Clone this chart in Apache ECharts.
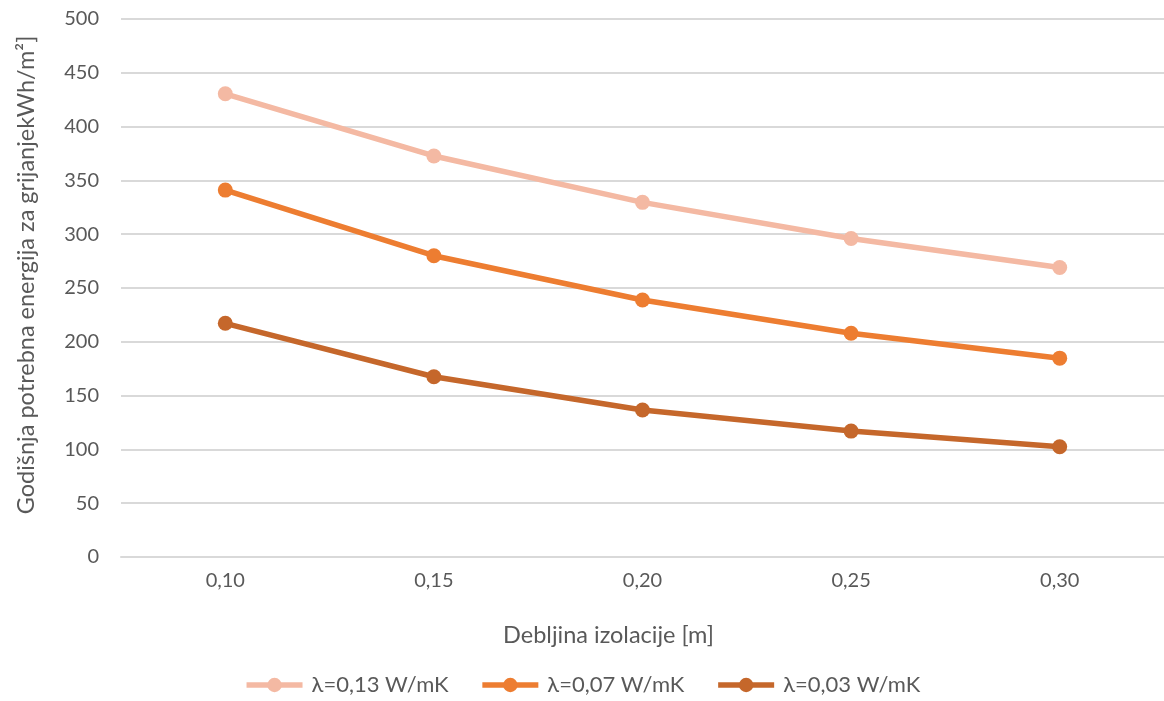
<!DOCTYPE html>
<html>
<head>
<meta charset="utf-8">
<script src="https://cdn.jsdelivr.net/npm/echarts@6/dist/echarts.min.js"></script>
<style>html,body{margin:0;padding:0;background:#fff}#c{width:1164px;height:701px}</style>
</head>
<body>
<div id="c"></div>
<script>
const categories = ['0,10', '0,15', '0,20', '0,25', '0,30'];
const seriesNames = ['λ=0,13 W/mK', 'λ=0,07 W/mK', 'λ=0,03 W/mK'];
const s013 = [430.5, 372.7, 329.6, 296, 269];
const s007 = [341, 280, 238.8, 208, 184.8];
const s003 = [217.2, 167.5, 136.6, 117, 102.5];
const colors = ['#F4B9A3', '#ED7D31', '#C5672B'];
const yTitle = 'Godišnja potrebna energija za grijanjekWh/m²]';
const xTitle = 'Debljina izolacije [m]';

const font = "Lato, 'Open Sans', sans-serif";
const chart = echarts.init(document.getElementById('c'));
const mk = (name, data, color) => ({
  name, type: 'line', data,
  symbol: 'circle', symbolSize: 15,
  lineStyle: { width: 5.5, color },
  itemStyle: { color },
  emphasis: { disabled: true },
  animation: false
});
chart.setOption({
  animation: false,
  textStyle: { fontFamily: font },
  grid: { left: 121, top: 19, width: 1055, height: 538 },
  xAxis: {
    type: 'category', data: categories, boundaryGap: true,
    axisLine: { show: true, lineStyle: { color: '#D9D9D9', width: 2 } },
    axisTick: { show: false },
    axisLabel: { color: '#595959', fontSize: 20, margin: 14, fontFamily: font },
    name: xTitle, nameLocation: 'middle', nameGap: 66,
    nameTextStyle: { color: '#595959', fontSize: 23.5, fontFamily: font, padding: [0, 68, 0, 0] }
  },
  yAxis: {
    type: 'value', min: 0, max: 500, interval: 50,
    axisLine: { show: false }, axisTick: { show: false },
    splitLine: { lineStyle: { color: '#D9D9D9', width: 2 } },
    axisLabel: { color: '#595959', fontSize: 20, margin: 22, fontFamily: font },
    name: yTitle, nameLocation: 'middle', nameGap: 83, nameRotate: 90,
    nameTextStyle: { color: '#595959', fontSize: 23.5, fontFamily: font, padding: [0, 0, 0, 26] }
  },
  legend: {
    bottom: 0, left: 'center', itemWidth: 56, itemHeight: 18, itemGap: 31,
    lineStyle: { width: 5.5 },
    textStyle: { color: '#595959', fontSize: 22, fontFamily: font, padding: [0, 0, 0, 4] },
    data: seriesNames
  },
  series: [mk(seriesNames[0], s013, colors[0]), mk(seriesNames[1], s007, colors[1]), mk(seriesNames[2], s003, colors[2])]
});
</script>
</body>
</html>
